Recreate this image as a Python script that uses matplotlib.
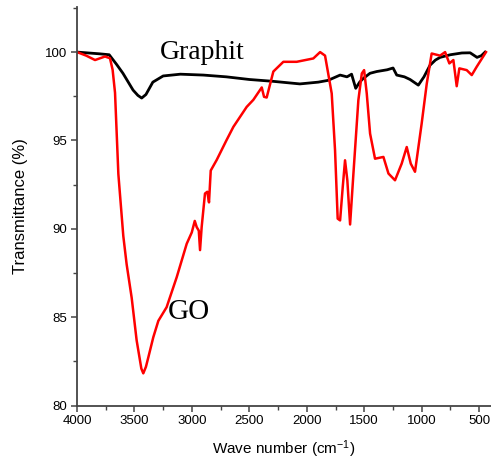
import matplotlib
matplotlib.use('Agg')
import matplotlib.pyplot as plt
from matplotlib.ticker import MultipleLocator

# FTIR spectra, wave number (cm-1) vs transmittance (%)
graphit_wn = [4000, 3900, 3800, 3720, 3655, 3600, 3512, 3470, 3437, 3400, 3340, 3250, 3100,
              2900, 2700, 2500, 2300, 2060, 1900, 1815, 1710, 1650, 1610, 1574, 1540,
              1510, 1450, 1391, 1300, 1249, 1217, 1150, 1101, 1029, 980, 927, 880,
              840, 750, 650, 578, 518, 480, 448]
graphit_t = [100.0, 99.95, 99.9, 99.85, 99.3, 98.8, 97.85, 97.55, 97.4, 97.6, 98.3, 98.65, 98.75,
             98.7, 98.6, 98.45, 98.35, 98.2, 98.3, 98.4, 98.7, 98.6, 98.75, 97.95, 98.3,
             98.5, 98.8, 98.9, 99.0, 99.1, 98.7, 98.6, 98.45, 98.13, 98.6, 99.26, 99.55,
             99.7, 99.85, 99.95, 99.96, 99.7, 99.8, 100.0]

go_wn = [4000, 3920, 3843, 3756, 3713, 3690, 3669, 3640, 3597, 3568, 3524, 3481,
         3440, 3423, 3400, 3379, 3336, 3292, 3220, 3132, 3045, 3001, 2975, 2958,
         2940, 2929, 2915, 2886, 2866, 2851, 2836, 2784, 2700, 2639, 2523, 2465,
         2392, 2372, 2349, 2291, 2204, 2088, 1943, 1884, 1841, 1783, 1754, 1731,
         1710, 1687, 1667, 1647, 1623, 1594, 1551, 1521, 1501, 1478, 1449, 1406,
         1333, 1289, 1232, 1174, 1130, 1095, 1058, 1000, 956, 913, 840, 796,
         759, 724, 695, 672, 608, 564, 521, 440]
go_t = [100.0, 99.8, 99.55, 99.75, 99.65, 99.0, 97.7, 93.1, 89.6, 88.0, 86.1, 83.7,
        82.1, 81.83, 82.2, 82.74, 83.87, 84.8, 85.57, 87.27, 89.16, 89.8, 90.45, 90.1,
        89.9, 88.8, 90.1, 92.0, 92.1, 91.5, 93.3, 93.9, 95.0, 95.77, 96.9, 97.3,
        98.0, 97.47, 97.43, 98.9, 99.45, 99.45, 99.64, 100.0, 99.8, 97.66, 94.45, 90.58,
        90.48, 92.37, 93.88, 92.75, 90.25, 93.13, 97.28, 98.79, 98.98, 97.66, 95.39, 93.97,
        94.07, 93.13, 92.75, 93.69, 94.63, 93.69, 93.23, 95.96, 98.2, 99.92, 99.8, 100.0,
        99.36, 99.55, 98.07, 99.08, 98.98, 98.7, 99.17, 100.0]

plt.rcParams['font.family'] = ['Liberation Sans', 'DejaVu Sans']
plt.rcParams['mathtext.default'] = 'regular'

fig = plt.figure(figsize=(4.91, 4.68), dpi=100)
ax = fig.add_axes([77 / 491, 62.3 / 468, 413.6 / 491, 398.7 / 468])

ax.plot(graphit_wn, graphit_t, color='black', lw=2.0)
ax.plot(go_wn, go_t, color='#ff0000', lw=1.8)

ax.set_xlim(4000, 400)
ax.set_ylim(80, 102.55)
ax.xaxis.set_major_locator(MultipleLocator(500))
ax.xaxis.set_minor_locator(MultipleLocator(250))
ax.yaxis.set_major_locator(MultipleLocator(5))
ax.yaxis.set_minor_locator(MultipleLocator(2.5))
ax.set_xticks([4000, 3500, 3000, 2500, 2000, 1500, 1000, 500])

for side in ['top', 'right']:
    ax.spines[side].set_visible(False)
for side in ['left', 'bottom']:
    ax.spines[side].set_color('#444444')
    ax.spines[side].set_linewidth(1.3)

ax.tick_params(which='major', direction='out', length=4, width=1.1, color='#444444',
               labelsize=9.5, pad=3)
ax.tick_params(which='minor', direction='out', length=3, width=1.0, color='#444444')

ax.set_xlabel('Wave number (cm$^{-1}$)', fontsize=11, labelpad=8)
ax.set_ylabel('Transmittance (%)', fontsize=12, labelpad=12)

ax.text(2912, 100.0, 'Graphit', family='Liberation Serif', fontsize=20,
        ha='center', va='center')
ax.text(3025, 85.3, 'GO', family='Liberation Serif', fontsize=21,
        ha='center', va='center')

fig.savefig('out.png', dpi=100)
